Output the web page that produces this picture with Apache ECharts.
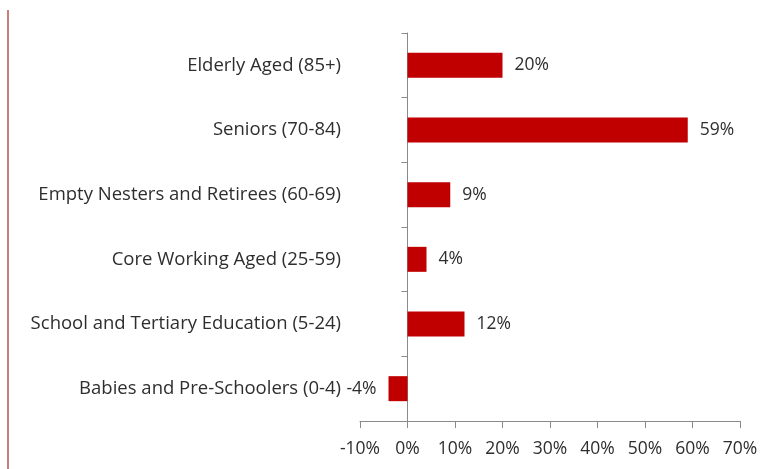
<!DOCTYPE html>
<html>
<head>
<meta charset="utf-8">
<script src="https://cdn.jsdelivr.net/npm/echarts@6/dist/echarts.min.js"></script>
<style>
  html, body { margin: 0; padding: 0; background: #fff; }
  #chart { width: 775px; height: 469px; }
</style>
</head>
<body>
<div id="chart"></div>
<script>
// Age groups, bottom to top
const categories = [
  'Babies and Pre-Schoolers (0-4)',
  'School and Tertiary Education (5-24)',
  'Core Working Aged (25-59)',
  'Empty Nesters and Retirees (60-69)',
  'Seniors (70-84)',
  'Elderly Aged (85+)'
];
// Percentage change per age group
const changes = [-4, 12, 4, 9, 59, 20];
// Value axis range and step (percent)
const axisMin = -10;
const axisMax = 70;
const axisStep = 10;

const FONT = 'Open Sans';
const TEXT = '#2e2e2e';
const AXIS = '#8a8a8a';
const BAR = '#c00000';

const chart = echarts.init(document.getElementById('chart'), null, { renderer: 'canvas' });

chart.setOption({
  animation: false,
  backgroundColor: '#ffffff',
  textStyle: { fontFamily: FONT },
  grid: { left: 360, right: 35, top: 33, bottom: 48, containLabel: false },
  graphic: [{
    type: 'line',
    shape: { x1: 8, y1: 10, x2: 8, y2: 469 },
    style: { stroke: '#b5524e', lineWidth: 1.5 }
  }],
  xAxis: {
    type: 'value',
    min: axisMin,
    max: axisMax,
    interval: axisStep,
    axisLine: { show: true, onZero: false, lineStyle: { color: AXIS, width: 1 } },
    axisTick: { show: true, inside: false, length: 7, lineStyle: { color: AXIS } },
    splitLine: { show: false },
    axisLabel: {
      color: TEXT, fontSize: 17.5, fontFamily: FONT, margin: 19,
      formatter: v => v + '%'
    }
  },
  yAxis: {
    type: 'category',
    data: categories,
    axisLine: { show: true, onZero: true, lineStyle: { color: AXIS, width: 1 } },
    axisTick: { show: true, length: 6, alignWithLabel: false, lineStyle: { color: AXIS } },
    axisLabel: { color: TEXT, fontSize: 18.5, fontFamily: FONT, margin: 19 },
    splitLine: { show: false }
  },
  series: [{
    type: 'bar',
    barWidth: 25,
    itemStyle: { color: BAR },
    data: changes.map(v => ({
      value: v,
      label: { position: v < 0 ? 'left' : 'right' }
    })),
    label: {
      show: true,
      distance: 12,
      color: TEXT,
      fontSize: 17.5,
      fontFamily: FONT,
      formatter: p => p.value + '%'
    }
  }]
});
</script>
</body>
</html>
